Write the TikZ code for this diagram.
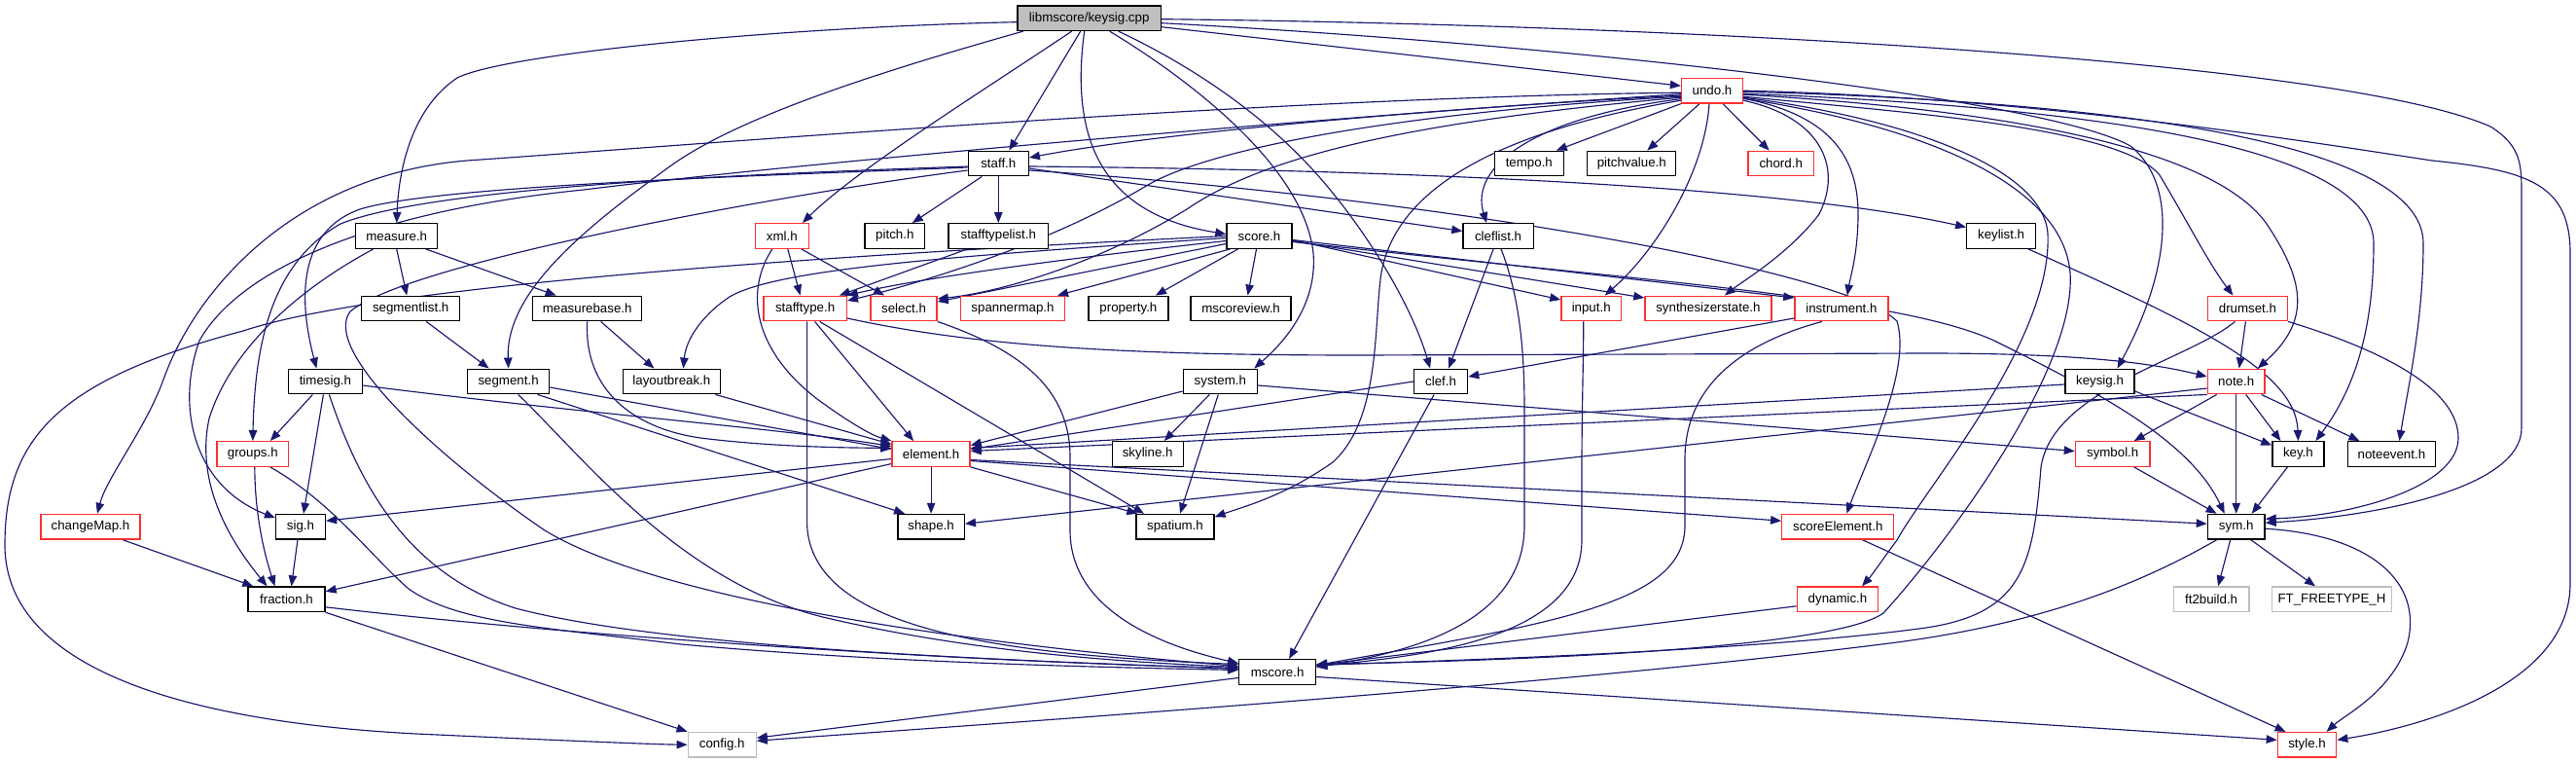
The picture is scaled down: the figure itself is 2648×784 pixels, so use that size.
\documentclass[tikz,border=0pt]{standalone}
\usepackage{fontspec}
\setmainfont{Liberation Sans}
\usetikzlibrary{arrows.meta}
\definecolor{edgec}{HTML}{191970}
\definecolor{redb}{HTML}{FF3030}
\definecolor{grayb}{HTML}{BFBFBF}
\pgfdeclarelayer{bg}
\pgfsetlayers{bg,main}
\begin{document}
\begin{tikzpicture}[x=1pt,y=-1pt,
  font=\fontsize{13.3}{15}\selectfont,
  box/.style={draw=black, line width=1.3pt, fill=white, minimum height=25.6pt, inner sep=0pt, text=black},
  rbox/.style={box, draw=redb},
  gbox/.style={box, draw=grayb},
  rootbox/.style={box, fill=grayb},
  ed/.style={draw=edgec, line width=1.15pt, -{Triangle[length=11pt,width=8.5pt]}}]
\useasboundingbox (0,0) rectangle (2648,784);
\begin{pgfonlayer}{bg}
\fill[white] (0,0) rectangle (2648,784);
\end{pgfonlayer}
% nodes
\node[rootbox, minimum width=147.4pt] (K) at (1119.7,18.7) {libmscore/keysig.cpp};
\node[rbox, minimum width=63pt] (undo) at (1760,93.2) {undo.h};
\node[box, minimum width=62pt] (staff) at (1026.3,168) {staff.h};
\node[box, minimum width=70.7pt] (tempo) at (1571.8,168) {tempo.h};
\node[box, minimum width=91pt] (pitchvalue) at (1677.3,168) {pitchvalue.h};
\node[rbox, minimum width=67.3pt] (chord) at (1830.7,168) {chord.h};
\node[box, minimum width=84pt] (measure) at (407.7,242.5) {measure.h};
\node[rbox, minimum width=55pt] (xml) at (803.8,242.5) {xml.h};
\node[box, minimum width=61.6pt] (pitch) at (919.8,242.5) {pitch.h};
\node[box, minimum width=102.7pt] (stafftypelist) at (1026.3,242.5) {stafftypelist.h};
\node[box, minimum width=67pt] (score) at (1294.5,242.5) {score.h};
\node[box, minimum width=72.4pt] (cleflist) at (1540.1,242.5) {cleflist.h};
\node[box, minimum width=70.8pt] (keylist) at (2057.1,242.5) {keylist.h};
\node[box, minimum width=101pt] (segmentlist) at (422.2,317) {segmentlist.h};
\node[box, minimum width=112pt] (measurebase) at (603.7,317) {measurebase.h};
\node[rbox, minimum width=85.4pt] (stafftype) at (827.6,317) {stafftype.h};
\node[rbox, minimum width=68pt] (select) at (929.1,317) {select.h};
\node[rbox, minimum width=107pt] (spannermap) at (1041,317) {spannermap.h};
\node[box, minimum width=82pt] (property) at (1159.9,317) {property.h};
\node[box, minimum width=103pt] (mscoreview) at (1275.6,317) {mscoreview.h};
\node[rbox, minimum width=61.6pt] (input) at (1635.7,317) {input.h};
\node[rbox, minimum width=130pt] (synth) at (1755.9,317) {synthesizerstate.h};
\node[rbox, minimum width=96pt] (instrument) at (1892.9,317) {instrument.h};
\node[rbox, minimum width=82pt] (drumset) at (2310.4,317) {drumset.h};
\node[box, minimum width=75.5pt] (timesig) at (334.4,392) {timesig.h};
\node[box, minimum width=84pt] (segment) at (522.6,392) {segment.h};
\node[box, minimum width=99.6pt] (layoutbreak) at (690.4,392) {layoutbreak.h};
\node[box, minimum width=76pt] (system) at (1254.3,392) {system.h};
\node[box, minimum width=55pt] (clef) at (1481.1,392) {clef.h};
\node[box, minimum width=71pt] (keysig) at (2158.5,392) {keysig.h};
\node[rbox, minimum width=58.7pt] (note) at (2298.7,392) {note.h};
\node[rbox, minimum width=73.7pt] (groups) at (259.8,466.5) {groups.h};
\node[rbox, minimum width=80pt] (element) at (957.1,466.5) {element.h};
\node[box, minimum width=73pt] (skyline) at (1179.7,466.5) {skyline.h};
\node[rbox, minimum width=76.6pt] (symbol) at (2171.7,466.5) {symbol.h};
\node[box, minimum width=53pt] (key) at (2362.4,466.5) {key.h};
\node[box, minimum width=90pt] (noteevent) at (2458.4,466.5) {noteevent.h};
\node[rbox, minimum width=102pt] (changeMap) at (93,541.2) {changeMap.h};
\node[box, minimum width=50.8pt] (sig) at (309,541.2) {sig.h};
\node[box, minimum width=68.5pt] (shape) at (957.1,541.2) {shape.h};
\node[box, minimum width=80pt] (spatium) at (1208,541.2) {spatium.h};
\node[rbox, minimum width=115pt] (scoreElement) at (1889.3,541.2) {scoreElement.h};
\node[box, minimum width=58.7pt] (sym) at (2298.7,541.2) {sym.h};
\node[box, minimum width=79pt] (fraction) at (294.5,615.8) {fraction.h};
\node[rbox, minimum width=83.3pt] (dynamic) at (1889,615.8) {dynamic.h};
\node[gbox, minimum width=77.6pt] (ft2build) at (2273.1,615.8) {ft2build.h};
\node[gbox, minimum width=122.7pt] (FT) at (2397,615.8) {FT\_FREETYPE\_H};
\node[box, minimum width=78.8pt] (mscore) at (1313.1,690.5) {mscore.h};
\node[gbox, minimum width=70pt] (config) at (742.2,765.2) {config.h};
\node[rbox, minimum width=60.4pt] (style) at (2371.5,765.3) {style.h};
\begin{pgfonlayer}{bg}
% root
\draw[ed] ([yshift=-4pt]K.west) .. controls (800,28) and (520,55) .. (470,80) .. controls (425,110) and (410,170) .. (measure.north);
\draw[ed] ([xshift=-68pt]K.south) .. controls (900,75) and (760,120) .. (690,170) .. controls (600,235) and (520,300) .. (segment.north);
\draw[ed] ([xshift=-18pt]K.south) .. controls (1000,100) and (880,175) .. ([xshift=21pt]xml.north);
\draw[ed] ([xshift=-9pt]K.south) -- ([xshift=11pt]staff.north);
\draw[ed] ([xshift=-5pt]K.south) .. controls (1100,140) and (1130,220) .. ([yshift=2pt]score.west);
\draw[ed] ([xshift=21pt]K.south) .. controls (1220,80) and (1340,170) .. (1350,260) .. controls (1355,320) and (1310,360) .. ([xshift=35pt]system.north);
\draw[ed] ([xshift=30pt]K.south) .. controls (1230,70) and (1300,120) .. (1350,175) .. controls (1400,230) and (1450,310) .. ([xshift=-11pt]clef.north);
\draw[ed] ([yshift=-9pt]K.east) -- ([yshift=5pt]undo.west);
\draw[ed] ([yshift=-5pt]K.east) .. controls (1600,45) and (2100,100) .. (2190,150) .. controls (2240,190) and (2230,280) .. ([xshift=18pt]keysig.north);
\draw[ed] ([yshift=-1pt]K.east) .. controls (1700,25) and (2400,60) .. (2560,130) .. controls (2592,150) and (2592,170) .. (2592,200) -- (2592,440) .. controls (2592,500) and (2450,530) .. ([yshift=4pt]sym.east);
% undo
\draw[ed] ([yshift=-5pt]undo.west) .. controls (1500,110) and (1200,135) .. ([yshift=6pt]staff.east);
\draw[ed] (undo.south west) -- ([xshift=28pt]tempo.north);
\draw[ed] ([xshift=-13pt]undo.south) -- ([xshift=16pt]pitchvalue.north);
\draw[ed] ([xshift=11pt]undo.south) -- ([xshift=-12pt]chord.north);
\draw[ed] ([yshift=-8.5pt]undo.west) .. controls (1580,120) and (1510,170) .. ([xshift=-12pt]cleflist.north);
\draw[ed] ([xshift=-3pt]undo.south) .. controls (1752,180) and (1700,260) .. ([xshift=14pt]input.north);
\draw[ed] ([yshift=-10pt]undo.east) .. controls (1870,120) and (1895,170) .. (1870,220) .. controls (1840,260) and (1790,290) .. ([xshift=17pt]synth.north);
\draw[ed] ([yshift=-8pt]undo.east) .. controls (1880,118) and (1910,160) .. (1910,220) .. controls (1910,260) and (1902,285) .. ([xshift=6pt]instrument.north);
\draw[ed] ([yshift=-6pt]undo.east) .. controls (1950,115) and (2180,130) .. (2220,180) .. controls (2250,230) and (2270,270) .. ([xshift=-15pt]drumset.north);
\draw[ed] ([yshift=-4pt]undo.east) .. controls (2100,115) and (2280,160) .. (2330,230) .. controls (2370,290) and (2375,330) .. ([xshift=22pt]note.north);
\draw[ed] ([yshift=-3pt]undo.east) .. controls (2150,110) and (2440,150) .. (2440,250) .. controls (2440,340) and (2420,400) .. ([xshift=18pt]key.north);
\draw[ed] ([yshift=-1pt]undo.east) .. controls (2200,105) and (2491,150) .. (2491,250) .. controls (2491,330) and (2475,400) .. ([xshift=8pt]noteevent.north);
\draw[ed] (undo.east) .. controls (2100,100) and (2400,150) .. (2500,165) .. controls (2600,175) and (2642,190) .. (2642,260) -- (2642,600) .. controls (2642,700) and (2500,745) .. ([yshift=5pt]style.east);
\draw[ed] ([yshift=-7pt]undo.east) .. controls (1950,120) and (2100,170) .. (2105,240) .. controls (2110,350) and (1980,500) .. (1950,555) .. controls (1935,575) and (1925,590) .. ([xshift=25pt]dynamic.north);
\draw[ed] ([yshift=-8pt]undo.east) .. controls (1980,130) and (2120,190) .. (2128,280) .. controls (2135,380) and (2000,560) .. (1936,630) .. controls (1880,670) and (1500,680) .. ([yshift=8pt]mscore.east);
\draw[ed] ([yshift=-10pt]undo.west) .. controls (1600,125) and (1440,170) .. (1420,280) .. controls (1412,330) and (1420,430) .. (1370,475) .. controls (1320,510) and (1280,520) .. ([yshift=10pt]spatium.east);
\draw[ed] ([yshift=-7pt]undo.west) .. controls (1450,125) and (1300,160) .. (1220,215) .. controls (1130,270) and (1030,300) .. ([yshift=10pt]select.east);
\draw[ed] ([yshift=-6pt]undo.west) .. controls (1450,115) and (1250,150) .. (1180,190) .. controls (1080,250) and (950,290) .. ([yshift=8pt]stafftype.east);
\draw[ed] ([yshift=-2pt]undo.west) .. controls (1300,100) and (700,150) .. (480,165) .. controls (300,180) and (200,300) .. (168,390) .. controls (150,440) and (110,490) .. ([xshift=7pt]changeMap.north);
\draw[ed] ([yshift=-3.5pt]undo.west) .. controls (1300,125) and (800,170) .. (600,195) .. controls (400,215) and (250,270) .. (205,350) .. controls (180,420) and (200,500) .. ([yshift=9pt]sig.west);
% staff
\draw[ed] ([xshift=-17pt]staff.south) -- ([xshift=18pt]pitch.north);
\draw[ed] (staff.south) -- (stafftypelist.north);
\draw[ed] ([yshift=-5pt]staff.east) -- ([yshift=5pt]cleflist.west);
\draw[ed] ([yshift=-3pt]staff.east) .. controls (1500,175) and (1850,195) .. ([yshift=9pt]keylist.west);
\draw[ed] ([yshift=-7pt]staff.east) .. controls (1500,205) and (1900,280) .. (1950,330) .. controls (1965,380) and (1920,470) .. ([xshift=9pt]scoreElement.north);
\draw[ed] ([yshift=-3pt]staff.west) .. controls (800,178) and (450,190) .. (350,230) .. controls (280,270) and (262,350) .. (groups.north);
\draw[ed] ([yshift=-4pt]staff.west) .. controls (800,180) and (450,190) .. (370,215) .. controls (300,240) and (310,320) .. ([xshift=-9pt]timesig.north);
\draw[ed] ([yshift=-7pt]staff.west) .. controls (800,200) and (420,270) .. (360,320) .. controls (330,360) and (450,470) .. (560,545) .. controls (700,630) and (1100,670) .. ([yshift=6pt]mscore.west);
% score
\draw[ed] ([yshift=-8pt]score.west) -- ([yshift=7pt]select.east);
\draw[ed] ([xshift=-30pt]score.south) -- ([xshift=46pt]spannermap.north);
\draw[ed] ([xshift=-22pt]score.south) -- ([xshift=28pt]property.north);
\draw[ed] ([xshift=-3pt]score.south) -- ([xshift=7pt]mscoreview.north);
\draw[ed] ([yshift=-5pt]score.west) .. controls (1100,265) and (950,285) .. (stafftype.north east);
\draw[ed] ([yshift=-2pt]score.west) .. controls (1000,262) and (800,275) .. (750,305) .. controls (720,325) and (705,350) .. ([xshift=12pt]layoutbreak.north);
\draw[ed] (score.west) .. controls (900,260) and (400,290) .. (250,340) .. controls (60,390) and (5,450) .. (5,560) .. controls (5,690) and (200,745) .. (450,755) .. controls (600,762) and (680,765) .. (config.west);
\draw[ed] ([yshift=-4pt]score.east) -- ([yshift=9pt]input.west);
\draw[ed] ([yshift=-5pt]score.east) -- ([yshift=11pt]synth.west);
\draw[ed] ([yshift=-4pt]score.east) -- ([yshift=11pt]instrument.west);
\draw[ed] ([yshift=-6pt]score.east) .. controls (1700,290) and (1950,305) .. (2050,350) .. controls (2150,400) and (2250,450) .. ([xshift=-12pt]sym.north);
% xml
\draw[ed] ([xshift=6pt]xml.south) -- ([xshift=-5pt]stafftype.north);
\draw[ed] ([xshift=20pt]xml.south) -- ([xshift=-20pt]select.north);
\draw[ed] ([xshift=-10pt]xml.south) .. controls (765,300) and (775,360) .. (840,410) .. controls (870,432) and (895,447) .. (element.north west);
\draw[ed] ([xshift=-32pt]stafftypelist.south) -- ([xshift=-8pt]stafftype.north east);
% stafftype
\draw[ed] ([xshift=10pt]stafftype.south) -- ([xshift=-18pt]element.north);
\draw[ed] ([xshift=2pt]stafftype.south) -- (829.6,540) .. controls (835,640) and (1000,672) .. ([yshift=8pt]mscore.west);
\draw[ed] ([xshift=15pt]stafftype.south) -- ([xshift=-32pt]spatium.north);
\draw[ed] ([yshift=-10pt]stafftype.east) .. controls (1000,355) and (1150,365) .. (1400,365) -- (1980,363) .. controls (2150,363) and (2220,375) .. ([yshift=5pt]note.west);
\draw[ed] (select.south east) .. controls (1050,360) and (1100,400) .. (1100,470) -- (1100,545) .. controls (1100,630) and (1200,665) .. ([yshift=9pt]mscore.west);
% measure
\draw[ed] (measure.south) -- ([xshift=-4pt]segmentlist.north);
\draw[ed] ([xshift=30pt]measure.south) -- ([xshift=-32pt]measurebase.north);
\draw[ed] ([xshift=-24pt]measure.south) .. controls (320,290) and (240,350) .. (215,430) .. controls (200,500) and (240,560) .. ([xshift=-20pt]fraction.north);
\draw[ed] ([xshift=16pt]segmentlist.south) -- ([xshift=-20pt]segment.north);
\draw[ed] ([xshift=14pt]measurebase.south) -- ([xshift=-18pt]layoutbreak.north);
\draw[ed] (measurebase.south) .. controls (600,400) and (650,440) .. (720,450) .. controls (800,460) and (880,460) .. ([yshift=6pt]element.west);
% timesig
\draw[ed] ([xshift=-13pt]timesig.south) -- ([xshift=18pt]groups.north);
\draw[ed] ([xshift=-2pt]timesig.south) -- ([xshift=3pt]sig.north);
\draw[ed] ([yshift=-4pt]timesig.east) .. controls (600,425) and (800,440) .. ([yshift=8pt]element.west);
\draw[ed] ([xshift=4pt]timesig.south) .. controls (370,500) and (420,590) .. (530,625) .. controls (700,670) and (1100,680) .. ([yshift=3pt]mscore.west);
% segment
\draw[ed] ([yshift=-6pt]segment.east) -- ([yshift=5pt]element.west);
\draw[ed] ([xshift=30pt]segment.south) -- ([xshift=-27pt]shape.north);
\draw[ed] ([xshift=10pt]segment.south) .. controls (600,470) and (700,600) .. (850,635) .. controls (1000,670) and (1150,680) .. ([yshift=5pt]mscore.west);
\draw[ed] ([xshift=45pt]layoutbreak.south) -- ([yshift=10pt]element.west);
% groups etc
\draw[ed] ([xshift=2pt]groups.south) .. controls (262,530) and (272,570) .. ([xshift=-12pt]fraction.north);
\draw[ed] ([xshift=18pt]groups.south) .. controls (340,515) and (380,570) .. (420,605) .. controls (470,640) and (560,645) .. (700,662) .. controls (900,680) and (1100,685) .. ([yshift=2pt]mscore.west);
\draw[ed] ([xshift=33pt]changeMap.south) -- ([xshift=6pt]fraction.north west);
\draw[ed] ([xshift=-3pt]sig.south) -- ([xshift=5pt]fraction.north);
\draw[ed] ([yshift=-8pt]fraction.east) .. controls (600,655) and (1000,680) .. ([yshift=4pt]mscore.west);
\draw[ed] (fraction.south east) -- (config.north west);
% element
\draw[ed] (element.south) -- (shape.north);
\draw[ed] (element.south east) -- ([xshift=2pt]spatium.north west);
\draw[ed] ([yshift=-6pt]element.east) -- ([yshift=3pt]sym.west);
\draw[ed] ([yshift=-7pt]element.east) -- ([yshift=6pt]scoreElement.west);
\draw[ed] ([yshift=-5pt]element.west) -- ([yshift=6pt]sig.east);
\draw[ed] ([yshift=-10pt]element.west) -- ([yshift=8pt]fraction.east);
% system
\draw[ed] ([yshift=-10pt]system.west) -- ([yshift=9pt]element.east);
\draw[ed] ([xshift=-11pt]system.south) -- ([xshift=17pt]skyline.north);
\draw[ed] ([xshift=-2pt]system.south) -- ([xshift=5pt]spatium.north);
\draw[ed] ([yshift=-4pt]system.east) -- ([yshift=3pt]symbol.west);
% clef, cleflist, input, instrument
\draw[ed] (clef.west) -- ([yshift=5pt]element.east);
\draw[ed] ([xshift=-7pt]clef.south) -- ([xshift=12pt]mscore.north);
\draw[ed] ([xshift=-5pt]cleflist.south) -- ([xshift=8pt]clef.north);
\draw[ed] ([xshift=3pt]cleflist.south) .. controls (1560,300) and (1567,350) .. (1567,420) -- (1567,540) .. controls (1567,640) and (1450,670) .. ([yshift=5pt]mscore.east);
\draw[ed] ([xshift=-8pt]input.south) .. controls (1628,360) and (1626,420) .. (1626,480) -- (1626,555) .. controls (1626,660) and (1450,675) .. ([yshift=6pt]mscore.east);
\draw[ed] ([yshift=-10pt]instrument.west) -- ([yshift=5pt]clef.east);
\draw[ed] ([xshift=-20pt]instrument.south) .. controls (1800,350) and (1733,390) .. (1732,470) -- (1732,540) .. controls (1732,620) and (1600,640) .. ([yshift=7pt]mscore.east);
% right part
\draw[ed] ([xshift=28pt]keylist.south) .. controls (2250,330) and (2360,380) .. (key.north);
\draw[ed] ([yshift=-3pt]keysig.west) -- ([yshift=6pt]element.east);
\draw[ed] ([yshift=-10pt]keysig.east) -- ([yshift=9pt]key.west);
\draw[ed] (note.south west) -- ([yshift=3pt]element.east);
\draw[ed] ([yshift=-7pt]note.west) -- ([yshift=3pt]shape.east);
\draw[ed] ([xshift=-20pt]note.south) -- ([xshift=22pt]symbol.north);
\draw[ed] (note.south) -- (sym.north);
\draw[ed] ([xshift=10pt]note.south) -- ([xshift=-18pt]key.north);
\draw[ed] ([xshift=26pt]note.south) -- ([xshift=-33pt]noteevent.north);
\draw[ed] ([xshift=-2pt]drumset.south) -- ([xshift=3pt]note.north);
\draw[ed] ([xshift=-13pt]drumset.south) .. controls (2250,370) and (2110,400) .. (2098,480) .. controls (2090,580) and (2080,630) .. (1980,645) .. controls (1800,670) and (1450,680) .. ([yshift=7pt]mscore.east);
\draw[ed] (drumset.south east) .. controls (2450,360) and (2527,400) .. (2527,450) .. controls (2527,500) and (2420,530) .. ([yshift=8pt]sym.east);
\draw[ed] ([xshift=22pt]symbol.south) -- ([xshift=-20pt]sym.north);
\draw[ed] ([xshift=-11pt]key.south) -- ([xshift=16pt]sym.north);
\draw[ed] ([xshift=-6pt]sym.south) -- ([xshift=7pt]ft2build.north);
\draw[ed] ([xshift=15pt]sym.south) -- ([xshift=-17pt]FT.north);
\draw[ed] ([xshift=-20pt]sym.south) .. controls (2200,600) and (2100,640) .. (1950,660) .. controls (1600,705) and (1000,745) .. ([yshift=4pt]config.east);
\draw[ed] ([yshift=-2pt]sym.east) .. controls (2440,550) and (2490,600) .. (2475,660) .. controls (2460,710) and (2410,735) .. ([xshift=20pt]style.north);
\draw[ed] ([yshift=-6pt]mscore.west) -- ([yshift=7pt]config.east);
\draw[ed] ([yshift=-5pt]mscore.east) -- ([yshift=5pt]style.west);
\draw[ed] ([xshift=25pt]scoreElement.south) -- ([xshift=-22pt]style.north);
\draw[ed] ([yshift=-7pt]dynamic.west) -- ([yshift=7pt]mscore.east);
\end{pgfonlayer}
\end{tikzpicture}
\end{document}
